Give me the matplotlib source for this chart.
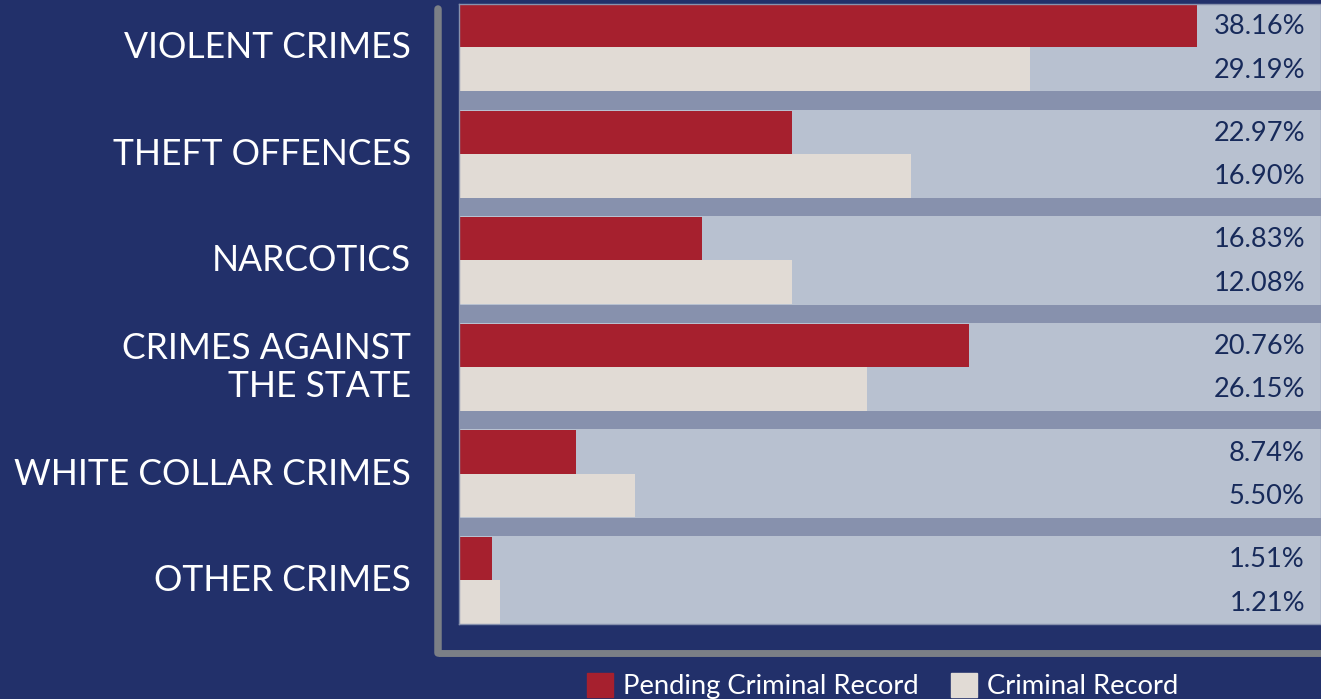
import matplotlib
matplotlib.use("Agg")
import matplotlib.pyplot as plt
import matplotlib.transforms as mtransforms
from matplotlib.patches import Patch
from matplotlib.lines import Line2D

# ---- data ----
categories = ["VIOLENT CRIMES", "THEFT OFFENCES", "NARCOTICS",
              "CRIMES AGAINST\nTHE STATE", "WHITE COLLAR CRIMES", "OTHER CRIMES"]
# drawn bar lengths (as they appear in the original graphic)
pending_bar = [38.16, 17.22, 12.56, 26.37, 6.05, 1.71]
record_bar = [29.52, 23.37, 17.22, 21.10, 9.10, 2.12]
# printed value labels
pending_labels = ["38.16%", "22.97%", "16.83%", "20.76%", "8.74%", "1.51%"]
record_labels = ["29.19%", "16.90%", "12.08%", "26.15%", "5.50%", "1.21%"]
series_names = ["Pending Criminal Record", "Criminal Record"]

# ---- style ----
W, H = 1321, 699
BG = "#22306A"
RED = "#A6202E"
BEIGE = "#E1DBD5"
PANEL = "#B8C1D0"
SEP = "#8791AD"
FRAME = "#7B7F86"
VAL = "#172A5A"

plt.rcParams["font.family"] = ["Lato", "DejaVu Sans"]

fig = plt.figure(figsize=(W / 100, H / 100), dpi=100)
fig.patch.set_facecolor(BG)

ax = fig.add_axes([459 / W, 1 - 624 / H, 862 / W, 620 / H])
ax.set_facecolor(PANEL)
ax.set_xlim(0, 862 / 19.34)
ax.set_ylim(5.815, 0)

bh1, bh2, sep0 = 0.405, 0.41, 0.82
n = len(categories)
for i in range(n):
    if i < n - 1:
        ax.axhspan(i + sep0, i + 0.99, color=SEP, lw=0, zorder=0.5)

ys = list(range(n))
ax.barh(ys, pending_bar, height=bh1, align="edge", color=RED, zorder=2)
ax.barh([y + bh1 for y in ys], record_bar, height=bh2, align="edge", color=BEIGE, zorder=2)

blend_ax = mtransforms.blended_transform_factory(ax.transAxes, ax.transData)
for i in range(n):
    ax.text(0.9814, i + bh1 / 2 + 0.01, pending_labels[i], transform=blend_ax,
            ha="right", va="center", fontsize=19.6, color=VAL, zorder=3)
    ax.text(0.9814, i + bh1 + bh2 / 2 + 0.01, record_labels[i], transform=blend_ax,
            ha="right", va="center", fontsize=19.6, color=VAL, zorder=3)

blend_fig = mtransforms.blended_transform_factory(fig.transFigure, ax.transData)
for i, c in enumerate(categories):
    ax.text(411 / W, i + bh1 + 0.005, c, transform=blend_fig, ha="right", va="center",
            multialignment="right", linespacing=1.16, fontsize=25.6, color="white",
            clip_on=False)

ax.set_xticks([])
ax.set_yticks([])
for s in ax.spines.values():
    s.set_color(SEP)
    s.set_linewidth(1)

# grey L-shaped frame
fig.add_artist(Line2D([437.5 / W, 437.5 / W], [1 - 9 / H, 1 - 653 / H],
                      transform=fig.transFigure, color=FRAME, lw=5.4,
                      solid_capstyle="round"))
fig.add_artist(Line2D([437.5 / W, 1.0], [1 - 653 / H, 1 - 653 / H],
                      transform=fig.transFigure, color=FRAME, lw=5.0,
                      solid_capstyle="butt"))

fs = 19.7
fpx = fs * 100 / 72
handles = [Patch(color=RED), Patch(color=BEIGE)]
fig.legend(handles, series_names, loc="center left",
           bbox_to_anchor=(587 / W, 1 - 686 / H), ncol=2, frameon=False,
           fontsize=fs, labelcolor="white", handlelength=26 / fpx,
           handleheight=27 / fpx, handletextpad=10 / fpx,
           columnspacing=32 / fpx, borderpad=0, borderaxespad=0)

fig.savefig("out.png", dpi=100, facecolor=BG)
